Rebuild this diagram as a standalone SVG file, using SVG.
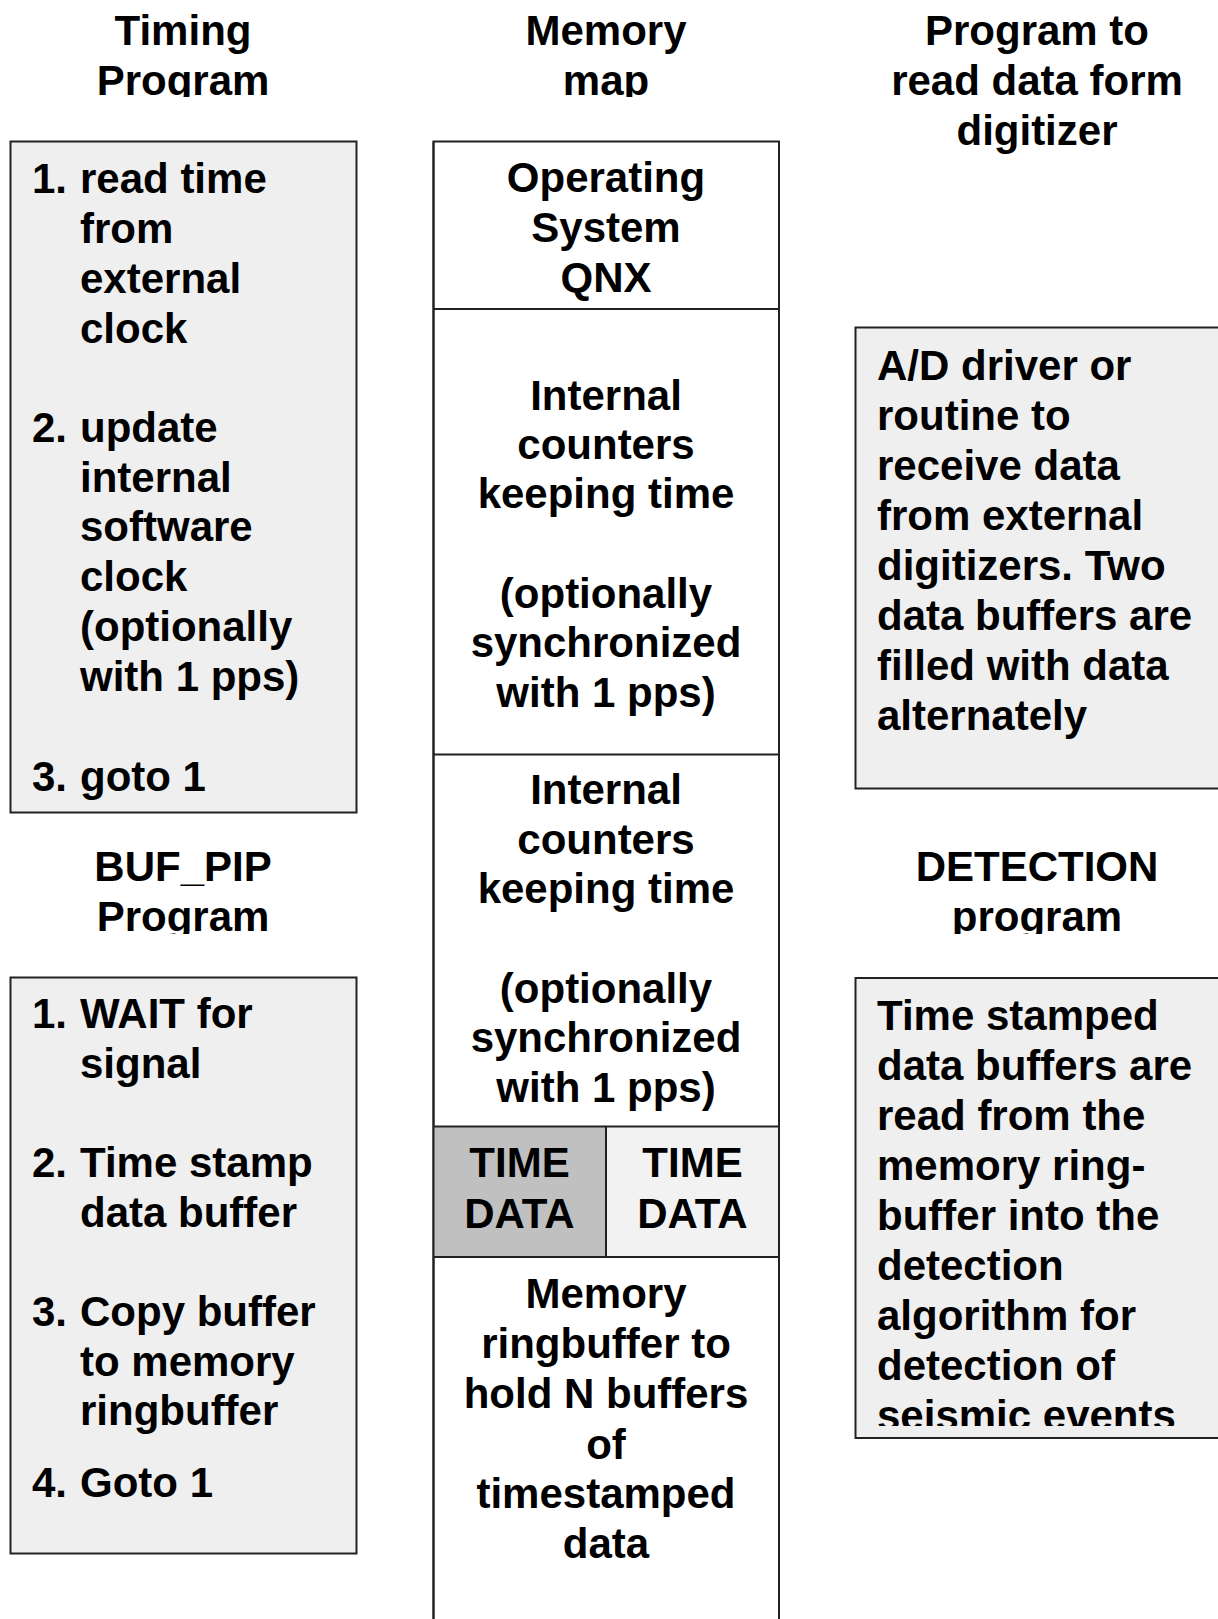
<svg xmlns="http://www.w3.org/2000/svg" width="1218" height="1619" viewBox="0 0 1218 1619">
<style>
text{font-family:"Liberation Sans",Arial,sans-serif;font-weight:bold;font-size:42px;fill:#000}
.c{text-anchor:middle}
.box{fill:#efefef;stroke:#222;stroke-width:2}
.mem{fill:#fff;stroke:#222;stroke-width:2}
.ln{stroke:#222;stroke-width:2;fill:none}
</style>
<defs>
<clipPath id="clipTop"><rect x="0" y="0" width="1218" height="97"/></clipPath>
<clipPath id="clipMid"><rect x="0" y="820" width="1218" height="114"/></clipPath>
<clipPath id="clipDet"><rect x="855" y="978" width="363" height="448"/></clipPath>
</defs>
<rect width="1218" height="1619" fill="#fff"/>

<g id="title-timing" clip-path="url(#clipTop)">
<text class="c" x="183" y="45">Timing</text>
<text class="c" x="183" y="95">Program</text>
</g>
<g id="title-memory" clip-path="url(#clipTop)">
<text class="c" x="606" y="45">Memory</text>
<text class="c" x="606" y="95">map</text>
</g>
<g id="title-digitizer">
<text class="c" x="1037" y="45">Program to</text>
<text class="c" x="1037" y="95">read data form</text>
<text class="c" x="1037" y="145">digitizer</text>
</g>

<g id="timing-program">
<rect class="box" x="10.5" y="141.5" width="346" height="671"/>
<text x="32" y="193">1. <tspan x="80">read time</tspan></text>
<text x="80" y="243">from</text>
<text x="80" y="293">external</text>
<text x="80" y="343">clock</text>
<text x="32" y="442">2. <tspan x="80">update</tspan></text>
<text x="80" y="492">internal</text>
<text x="80" y="541">software</text>
<text x="80" y="591">clock</text>
<text x="80" y="641">(optionally</text>
<text x="80" y="691">with 1 pps)</text>
<text x="32" y="791">3. <tspan x="80">goto 1</tspan></text>
</g>

<g id="memory-map">
<rect class="mem" x="433.5" y="141.5" width="345.5" height="1500"/>
<rect x="433.5" y="1126.5" width="172.5" height="130.5" fill="#c0c0c0"/>
<rect x="606" y="1126.5" width="173" height="130.5" fill="#f2f2f2"/>
<line class="ln" x1="433.5" y1="309" x2="779" y2="309"/>
<line class="ln" x1="433.5" y1="754.5" x2="779" y2="754.5"/>
<line class="ln" x1="433.5" y1="1126.5" x2="779" y2="1126.5"/>
<line class="ln" x1="433.5" y1="1257" x2="779" y2="1257"/>
<line class="ln" x1="606" y1="1126.5" x2="606" y2="1257"/>
<line class="ln" x1="433.5" y1="141.5" x2="433.5" y2="1619"/>
<line class="ln" x1="779" y1="141.5" x2="779" y2="1619"/>
<text class="c" x="606" y="192">Operating</text>
<text class="c" x="606" y="242">System</text>
<text class="c" x="606" y="292">QNX</text>
<text class="c" x="606" y="410">Internal</text>
<text class="c" x="606" y="459">counters</text>
<text class="c" x="606" y="508">keeping time</text>
<text class="c" x="606" y="608">(optionally</text>
<text class="c" x="606" y="657">synchronized</text>
<text class="c" x="606" y="707">with 1 pps)</text>
<text class="c" x="606" y="804">Internal</text>
<text class="c" x="606" y="854">counters</text>
<text class="c" x="606" y="903">keeping time</text>
<text class="c" x="606" y="1003">(optionally</text>
<text class="c" x="606" y="1052">synchronized</text>
<text class="c" x="606" y="1102">with 1 pps)</text>
<text class="c" x="519.5" y="1177">TIME</text>
<text class="c" x="519.5" y="1228">DATA</text>
<text class="c" x="692.5" y="1177">TIME</text>
<text class="c" x="692.5" y="1228">DATA</text>
<text class="c" x="606" y="1308">Memory</text>
<text class="c" x="606" y="1358">ringbuffer to</text>
<text class="c" x="606" y="1408">hold N buffers</text>
<text class="c" x="606" y="1459">of</text>
<text class="c" x="606" y="1508">timestamped</text>
<text class="c" x="606" y="1558">data</text>
</g>

<g id="ad-driver">
<rect class="box" x="855.5" y="327.5" width="400" height="461"/>
<text x="877" y="380">A/D driver or</text>
<text x="877" y="430">routine to</text>
<text x="877" y="480">receive data</text>
<text x="877" y="530">from external</text>
<text x="877" y="580">digitizers. Two</text>
<text x="877" y="630">data buffers are</text>
<text x="877" y="680">filled with data</text>
<text x="877" y="730">alternately</text>
</g>

<g id="title-bufpip" clip-path="url(#clipMid)">
<text class="c" x="183" y="881">BUF_PIP</text>
<text class="c" x="183" y="931">Program</text>
</g>
<g id="title-detection" clip-path="url(#clipMid)">
<text class="c" x="1037" y="881">DETECTION</text>
<text class="c" x="1037" y="931">program</text>
</g>

<g id="bufpip-program">
<rect class="box" x="10.5" y="977.5" width="346" height="576"/>
<text x="32" y="1028">1. <tspan x="80">WAIT for</tspan></text>
<text x="80" y="1078">signal</text>
<text x="32" y="1177">2. <tspan x="80">Time stamp</tspan></text>
<text x="80" y="1227">data buffer</text>
<text x="32" y="1326">3. <tspan x="80">Copy buffer</tspan></text>
<text x="80" y="1376">to memory</text>
<text x="80" y="1425">ringbuffer</text>
<text x="32" y="1497">4. <tspan x="80">Goto 1</tspan></text>
</g>

<g id="detection-program">
<rect class="box" x="855.5" y="978" width="400" height="460"/>
<g clip-path="url(#clipDet)">
<text x="877" y="1030">Time stamped</text>
<text x="877" y="1080">data buffers are</text>
<text x="877" y="1130">read from the</text>
<text x="877" y="1180">memory ring-</text>
<text x="877" y="1230">buffer into the</text>
<text x="877" y="1280">detection</text>
<text x="877" y="1330">algorithm for</text>
<text x="877" y="1380">detection of</text>
<text x="877" y="1430">seismic events</text>
</g>
</g>

<g id="connectors"/>
</svg>
